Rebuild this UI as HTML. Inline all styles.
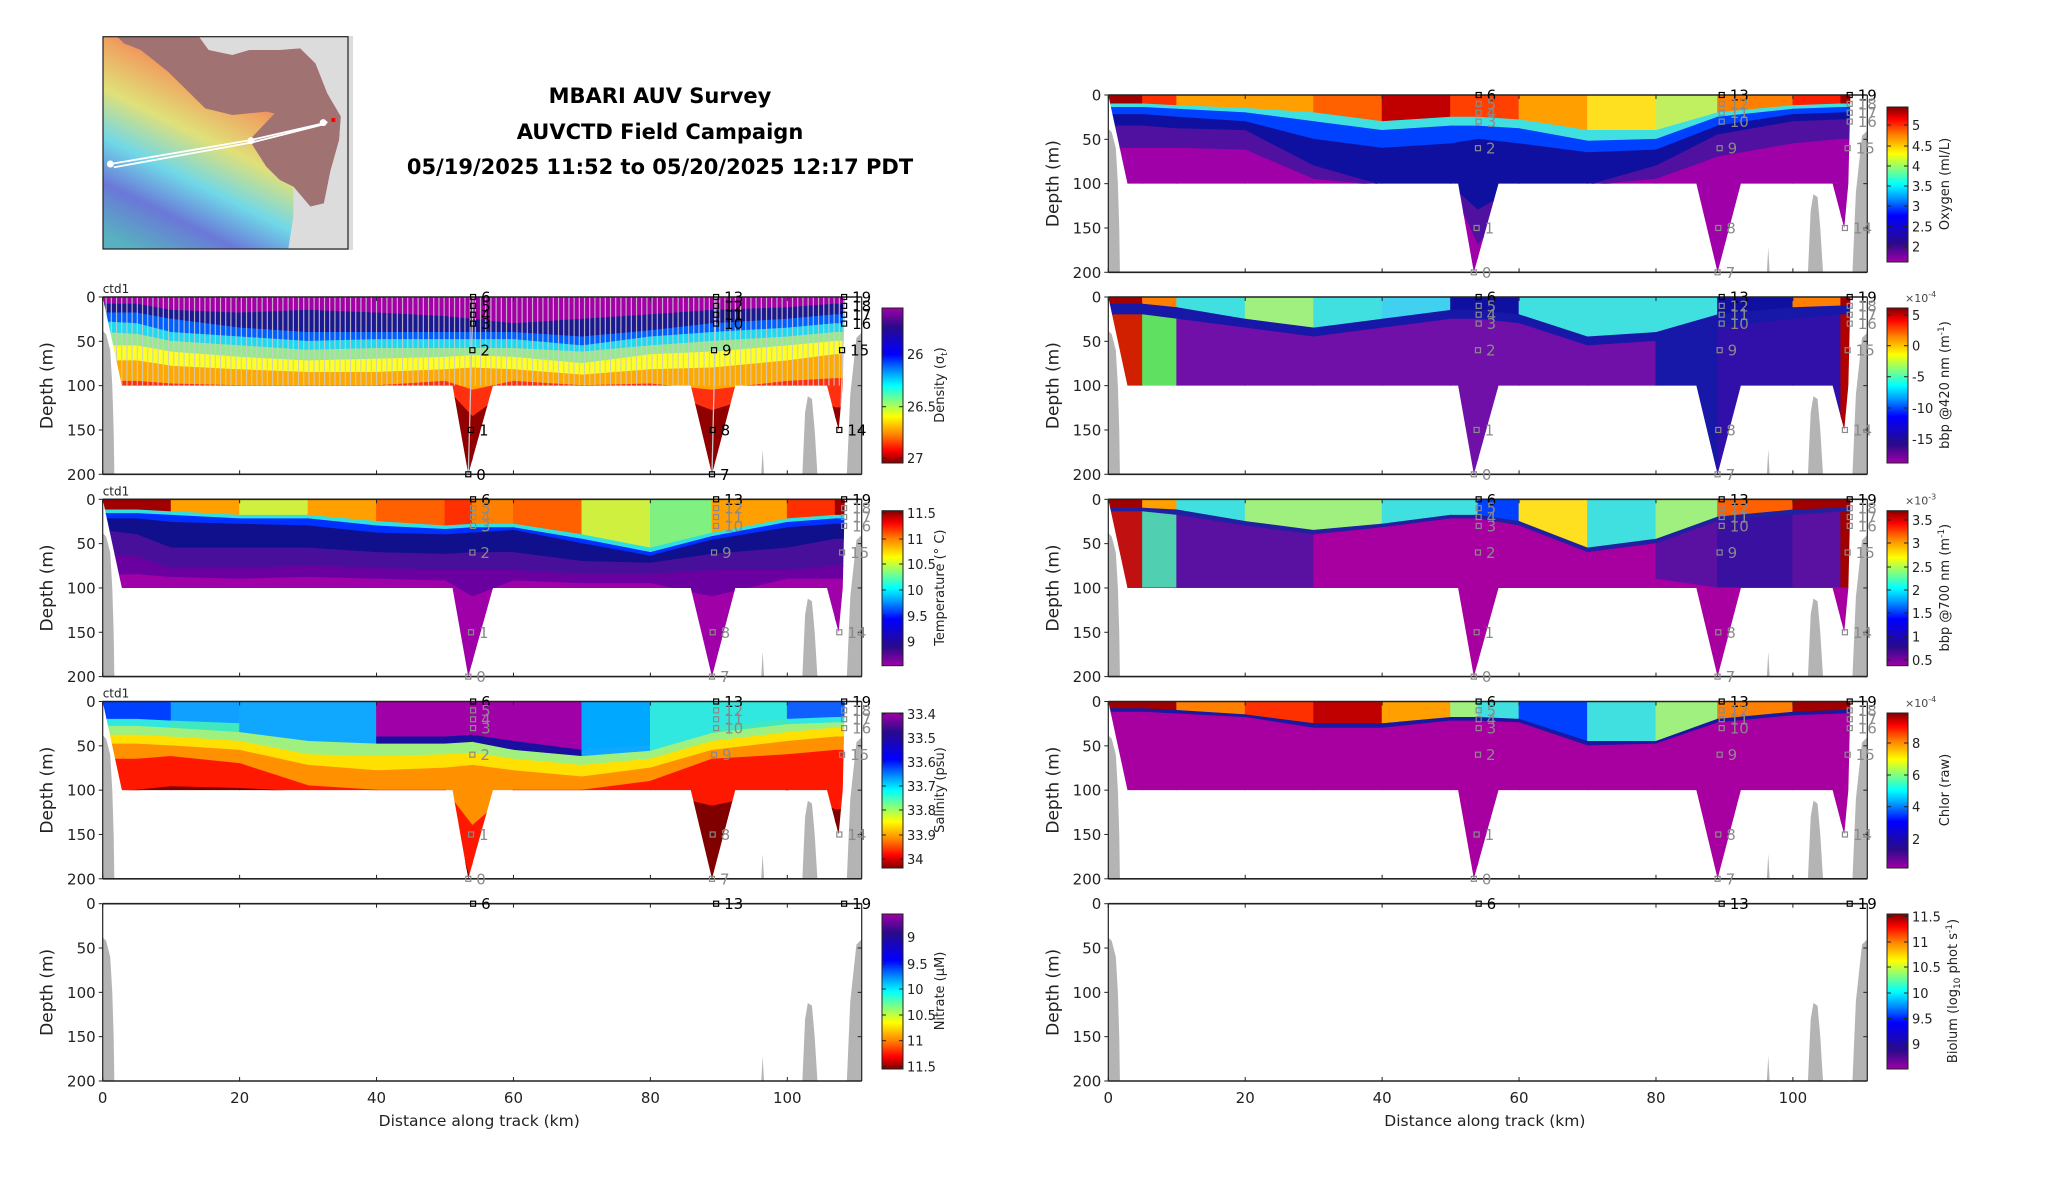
<!DOCTYPE html>
<html><head><meta charset="utf-8">
<style>
html,body{margin:0;padding:0;background:#fff;}
svg{display:block;font-family:"DejaVu Sans","Liberation Sans",sans-serif;}
</style></head>
<body>
<svg id="fig" xmlns="http://www.w3.org/2000/svg" width="2052" height="1188" viewBox="0 0 2052 1188">
<defs>
<linearGradient id="jetUp" x1="0" y1="1" x2="0" y2="0">
<stop offset="0" stop-color="#a000a8"/><stop offset="0.12" stop-color="#2a0a8a"/><stop offset="0.3" stop-color="#0000ff"/><stop offset="0.42" stop-color="#00a0ff"/><stop offset="0.5" stop-color="#00ffff"/><stop offset="0.6" stop-color="#80ff80"/><stop offset="0.7" stop-color="#ffff00"/><stop offset="0.82" stop-color="#ff8000"/><stop offset="0.92" stop-color="#ff0000"/><stop offset="1" stop-color="#800000"/>
</linearGradient>
<linearGradient id="jetDown" x1="0" y1="0" x2="0" y2="1">
<stop offset="0" stop-color="#a000a8"/><stop offset="0.12" stop-color="#2a0a8a"/><stop offset="0.3" stop-color="#0000ff"/><stop offset="0.42" stop-color="#00a0ff"/><stop offset="0.5" stop-color="#00ffff"/><stop offset="0.6" stop-color="#80ff80"/><stop offset="0.7" stop-color="#ffff00"/><stop offset="0.82" stop-color="#ff8000"/><stop offset="0.92" stop-color="#ff0000"/><stop offset="1" stop-color="#800000"/>
</linearGradient>
<linearGradient id="mapLand" x1="0.05" y1="0.95" x2="0.55" y2="0.05">
<stop offset="0" stop-color="#58b0c0"/><stop offset="0.2" stop-color="#6a78d8"/><stop offset="0.38" stop-color="#70d8e8"/><stop offset="0.58" stop-color="#e0e078"/><stop offset="0.78" stop-color="#f0a060"/><stop offset="0.92" stop-color="#e06868"/><stop offset="1" stop-color="#c06060"/>
</linearGradient>
</defs>
<g id="root"></g>
</svg>
<script>
// ---------- data ----------
const D = [0,5,10,20,30,40,50,54,60,70,80,89,100,107,111];

const densColors = ['#a400a8','#1c1890','#0060ff','#20d8f0','#98e890','#ffff20','#ffa800','#ff3010','#900000'];
const densBottoms = [
 [8,8,15,18,15,18,22,25,30,25,20,15,12,8,8],
 [18,18,25,35,40,40,40,40,40,45,38,30,25,20,20],
 [28,30,40,45,50,48,48,48,48,55,45,40,35,30,30],
 [40,42,50,55,60,58,58,58,58,62,55,50,45,40,40],
 [55,55,62,68,72,70,68,66,68,75,65,62,55,50,50],
 [72,72,78,82,85,85,82,80,82,88,82,80,72,65,65],
 [95,95,98,100,100,100,95,105,95,100,98,105,95,92,92],
 [102,102,102,102,102,102,102,135,102,102,102,128,102,125,125]];

const tempColors = [
 ['#a00000','#a00000','#ffa000','#d0f040','#ffa000','#ff6000','#ff3000','#ff8000','#ff6000','#d0f040','#80f080','#ffa000','#ff3000','#a00000'],
 '#30e0e0','#0030ff','#10108c','#48109a','#6a00a0','#a000a8'];
const tempBottoms = [
 [12,12,14,18,18,25,30,28,28,40,55,38,22,18,18],
 [16,16,18,22,22,30,34,32,32,45,60,42,26,22,22],
 [22,22,26,28,30,38,40,38,35,50,64,46,32,28,28],
 [35,40,55,55,55,60,62,60,60,70,72,62,55,45,45],
 [62,65,78,78,75,78,80,80,80,85,85,80,80,75,75],
 [85,85,88,90,88,90,92,110,92,95,95,110,90,90,90]];

const salColors = [
 ['#0040ff','#0040ff','#10a0ff','#10a8ff','#10a8ff','#a000a8','#a000a8','#a000a8','#a000a8','#00a8ff','#30e8e0','#30e8e0','#1060ff','#1060ff'],
 ['#30e8e0','#30e8e0','#40e8c0','#10a8ff','#10a8ff','#1a10a0','#1a10a0','#1a10a0','#1a10a0','#10a8ff','#30e8e0','#40e8c0','#30e8e0','#30e8e0'],
 '#a0f080','#ffe000','#ff9000','#ff1800','#800000'];
const salBottoms = [
 [20,20,22,25,35,40,40,38,45,55,50,30,20,18,18],
 [28,28,30,35,45,48,48,46,55,62,56,36,26,24,24],
 [38,38,40,45,60,62,60,58,65,72,65,45,35,30,30],
 [48,48,50,55,72,78,75,72,78,85,75,55,45,40,40],
 [65,65,62,70,95,100,100,140,100,100,90,65,60,55,55],
 [102,100,96,98,102,102,102,210,102,102,102,118,100,122,122]];

const oxyColors = [
 ['#a00000','#ff3000','#ffa000','#ffa000','#ff6000','#c00000','#ff4000','#ff4000','#ffa000','#ffe020','#c0f060','#ff8000','#ff2000','#a00000'],
 '#40e0e0','#0040ff','#1010a0','#5010a0','#a000a8'];
const oxyBottoms = [
 [10,10,12,15,20,30,25,25,28,40,40,20,12,10,10],
 [14,14,16,20,30,40,35,35,38,52,50,25,16,14,14],
 [22,22,25,30,50,60,55,50,55,65,62,35,22,20,20],
 [35,35,38,40,80,102,102,130,102,102,80,45,30,28,28],
 [60,60,60,62,95,102,102,170,102,102,95,70,55,50,50]];

const b420Colors = [
 ['#a00000','#ff8000','#40e0e0','#a0f080','#40e0e0','#40d0f0','#1010a0','#1010a0','#40e0e0','#40e0e0','#40e0e0','#1010a0','#ff8000','#a00000'],
 '#1818a8',
 ['#d02000','#60e060','#7010a8','#7010a8','#7010a8','#7010a8','#7010a8','#7010a8','#7010a8','#7010a8','#1818a8','#3010a8','#3010a8','#b00000']];
const b420Bottoms = [
 [8,8,12,25,35,25,15,15,20,45,40,20,12,10,10],
 [20,20,25,35,45,35,25,25,30,55,50,35,25,20,20]];

const b700Colors = [
 ['#a00000','#ffa000','#40e0e0','#a0f080','#a0f080','#40e0e0','#40e0e0','#0040ff','#ffe020','#40e0e0','#a0f080','#ff6000','#a00000','#a00000'],
 '#2020a0',
 ['#c01010','#50d0b0','#5a10a0','#5a10a0','#a800a0','#a800a0','#a800a0','#a800a0','#a800a0','#a800a0','#5a10a0','#3a10a0','#5a10a0','#a00000'],
 '#a800a0'];
const b700Bottoms = [
 [10,10,12,25,35,28,18,18,25,55,45,20,12,10,10],
 [14,14,18,30,40,32,22,22,30,60,50,25,18,14,14],
 [100,100,100,100,100,60,40,40,50,70,90,100,100,100,100]];

const chlColors = [
 ['#a00000','#a00000','#ff8000','#ff3000','#c00000','#ffa000','#a0f080','#40e0e0','#0040ff','#40e0e0','#a0f080','#ff8000','#a00000','#a00000'],
 '#1818a0','#a800a0'];
const chlBottoms = [
 [8,8,10,15,25,25,18,18,20,45,45,20,12,10,10],
 [12,12,14,18,30,30,22,22,24,50,48,24,16,14,14]];

const depthTicks = [0,50,100,150,200];
const kmTicks = [0,20,40,60,80,100];
const densTicks = ['26','26.5','27'], densTickY = [354,406.7,458];
const tempTicks = ['11.5','11','10.5','10','9.5','9'], tempTickY = [513,539,564,590,616,641.7];
const salTicks = ['33.4','33.5','33.6','33.7','33.8','33.9','34'], salTickY = [714,738,762,786,810,835,859];
const nitTicks = ['9','9.5','10','10.5','11','11.5'], nitTickY = [937,964,989,1015,1040.7,1066.7];
const oxyTicks = ['5','4.5','4','3.5','3','2.5','2'], oxyTickY = [125,146,166,186,206,226.7,246.7];
const b420Ticks = ['5','0','-5','-10','-15'], b420TickY = [315,345.7,376.7,408,439];
const b700Ticks = ['3.5','3','2.5','2','1.5','1','0.5'], b700TickY = [520,543,567,590,613,636.7,660];
const chlTicks = ['8','6','4','2'], chlTickY = [743,775,806.7,839];
const bioTicks = ['11.5','11','10.5','10','9.5','9'], bioTickY = [916.5,942,967,993,1018.6,1044];

const stations = [
 {km:54.1,d:0,l:'6',top:true},{km:54.1,d:10,l:'5'},{km:54.1,d:20,l:'4'},{km:54.1,d:30,l:'3'},
 {km:54.0,d:60,l:'2'},{km:53.8,d:150,l:'1'},{km:53.4,d:200,l:'0'},
 {km:89.6,d:0,l:'13',top:true},{km:89.6,d:10,l:'12'},{km:89.6,d:20,l:'11'},{km:89.6,d:30,l:'10'},
 {km:89.3,d:60,l:'9'},{km:89.1,d:150,l:'8'},{km:89.0,d:200,l:'7'},
 {km:108.3,d:0,l:'19',top:true},{km:108.3,d:10,l:'18'},{km:108.3,d:20,l:'17'},{km:108.3,d:30,l:'16'},
 {km:108.0,d:60,l:'15'},{km:107.6,d:150,l:'14'}];

// ---------- geometry ----------
const NS='http://www.w3.org/2000/svg';
const KM=6.846, DM=0.8865, PH=177.3, PW=759;
const XL=102.7, XR=1108.3;
const TOPS=[95,297,499.3,701.5,903.7];
const section=[[0,0],[108.4,0],[108.1,100],[107.5,150],[105.8,100],[92.4,100],[89.0,200],[85.9,100],[57.0,100],[53.4,200],[51.1,100],[2.8,100]];
const bathyL=[[0,38],[0.5,42],[1.1,60],[1.4,100],[1.6,150],[1.7,200],[0,200]];
const bathyR1=[[102.2,200],[102.6,130],[103.0,112],[103.6,115],[104.0,150],[104.4,200]];
const bathyR2=[[108.7,200],[109.2,110],[110.1,46],[110.9,40],[110.9,200]];
const bathyR3=[[96.2,200],[96.4,172],[96.6,200]];
const root=document.getElementById('root');

function el(tag,attrs,parent){const e=document.createElementNS(NS,tag);for(const k in attrs)e.setAttribute(k,attrs[k]);(parent||root).appendChild(e);return e;}
function txt(s,attrs,parent){const e=el('text',attrs,parent);e.textContent=s;return e;}

let clipN=0;
function panel(name,x0,top,colors,bottoms,stripes,statMode,ctd){
  const sx=k=>x0+k*KM, sy=d=>top+d*DM;
  const g=el('g',{});
  
  
  if(colors){
    const cid='clip'+(clipN++);
    const cp=el('clipPath',{id:cid},g);
    el('polygon',{points:section.map(p=>sx(p[0])+','+sy(p[1])).join(' ')},cp);
    const fg=el('g',{'clip-path':'url(#'+cid+')'},g);
    
    
    let prev=D.map(()=>0);
    for(let k=0;k<colors.length;k++){
      const bot=k<bottoms.length?bottoms[k]:D.map(()=>210);
      for(let i=0;i<D.length-1;i++){
        const c=Array.isArray(colors[k])?colors[k][i]:colors[k];
        const pts=[[D[i],prev[i]],[D[i+1],prev[i+1]],[D[i+1],bot[i+1]],[D[i],bot[i]]];
        const p=el('polygon',{points:pts.map(q=>sx(q[0])+','+sy(q[1])).join(' '),fill:c,stroke:c,'stroke-width':0.8},fg);
        
        
      }
      prev=bot;
    }
    if(stripes){
      for(let x=sx(0.5);x<sx(108);x+=5.2){
        const l=el('line',{x1:x,y1:sy(0.5),x2:x,y2:sy(100),stroke:'#cccccc','stroke-width':1.2,'stroke-opacity':0.85},fg);
        
        
      }
      [[53.4,54.1],[89.0,89.6],[107.6,108.3]].forEach(v=>{
        const l=el('line',{x1:sx(v[1]),y1:sy(0),x2:sx(v[0]),y2:sy(200),stroke:'#c8c8c8','stroke-width':1.3},fg);
        
        
      });
    }
  }
  [bathyL,bathyR1,bathyR2,bathyR3].forEach((b,i)=>{
    const p=el('polygon',{points:b.map(q=>sx(q[0])+','+sy(q[1])).join(' '),fill:'#b4b4b4'},g);
    
    
  });
  const ax=el('rect',{x:x0,y:top,width:PW,height:PH,fill:'none',stroke:'none'},g);
  
  
  el('line',{x1:x0,y1:top,x2:x0+PW,y2:top,stroke:'#222','stroke-width':1.6},g);
  el('line',{x1:x0,y1:top+PH,x2:x0+PW,y2:top+PH,stroke:'#222','stroke-width':1.6},g);
  el('line',{x1:x0,y1:top,x2:x0,y2:top+PH,stroke:'#222','stroke-width':1.2},g);
  el('line',{x1:x0+PW,y1:top,x2:x0+PW,y2:top+PH,stroke:'#222','stroke-width':1.2},g);
  depthTicks.forEach(d=>{
    el('line',{x1:x0,y1:sy(d),x2:x0-4,y2:sy(d),stroke:'#222','stroke-width':1},g);
    el('line',{x1:x0+PW,y1:sy(d),x2:x0+PW-4,y2:sy(d),stroke:'#222','stroke-width':1},g);
    const t=txt(String(d),{x:x0-7,y:sy(d)+5.5,'font-size':15,'text-anchor':'end',fill:'#222'},g);
    
    
  });
  kmTicks.forEach(k=>{
    el('line',{x1:sx(k),y1:top+PH,x2:sx(k),y2:top+PH-4,stroke:'#222','stroke-width':1},g);
    el('line',{x1:sx(k),y1:top,x2:sx(k),y2:top+4,stroke:'#222','stroke-width':1},g);
  });
  const yl=txt('Depth (m)',{x:0,y:0,'font-size':17,'text-anchor':'middle',fill:'#222',transform:'translate('+(x0-50)+','+(top+PH/2)+') rotate(-90)'},g);
  
  
  if(ctd){const c=txt('ctd1',{x:x0,y:top-4,'font-size':12,fill:'#222'},g);
    }
  stations.forEach(s=>{
    if(statMode==='top'&&!s.top)return;
    const col=(statMode==='all'||s.top)?'#000':'#8a8a8a';
    const r=el('rect',{x:sx(s.km)-2.5,y:sy(s.d)-2.5,width:5,height:5,fill:'none',stroke:col,'stroke-width':1.2},g);
    
    
    const t=txt(s.l,{x:sx(s.km)+8,y:sy(s.d)+5.5,'font-size':15,fill:col},g);
    
    
  });
  return g;
}

function colorbar(name,bx,by,grad,ticks,ticky,title,expo,toff){
  const g=el('g',{});
  
  
  el('rect',{x:bx,y:by,width:21,height:155,fill:'url(#'+grad+')',stroke:'#222','stroke-width':1},g);
  ticks.forEach((t,i)=>{
    el('line',{x1:bx+21,y1:ticky[i],x2:bx+17,y2:ticky[i],stroke:'#222','stroke-width':1},g);
    el('line',{x1:bx,y1:ticky[i],x2:bx+4,y2:ticky[i],stroke:'#222','stroke-width':1},g);
    const tt=txt(t,{x:bx+25,y:ticky[i]+5,'font-size':13,fill:'#222'},g);
    
    
  });
  const tl=txt('',{x:0,y:0,'font-size':13,'text-anchor':'middle',fill:'#222',transform:'translate('+(bx+(toff||62))+','+(by+77)+') rotate(-90)'},g);
  tl.innerHTML=title;
  
  
  if(expo){const e=txt('',{x:bx+18,y:by-6,'font-size':11,fill:'#444'},g);e.innerHTML=expo;
    }
}

panel('density',XL,TOPS[1],densColors,densBottoms,true,'all',true);
panel('temperature',XL,TOPS[2],tempColors,tempBottoms,false,'grey',true);
panel('salinity',XL,TOPS[3],salColors,salBottoms,false,'grey',true);
panel('nitrate',XL,TOPS[4],null,null,false,'top',false);
panel('oxygen',XR,TOPS[0],oxyColors,oxyBottoms,false,'grey',false);
panel('bbp420',XR,TOPS[1],b420Colors,b420Bottoms,false,'grey',false);
panel('bbp700',XR,TOPS[2],b700Colors,b700Bottoms,false,'grey',false);
panel('chlorophyll',XR,TOPS[3],chlColors,chlBottoms,false,'grey',false);
panel('biolum',XR,TOPS[4],null,null,false,'top',false);

[XL,XR].forEach(x0=>{
  kmTicks.forEach(k=>{
    const t=txt(String(k),{x:x0+k*KM,y:1103,'font-size':15,'text-anchor':'middle',fill:'#222'});
    
    
  });
  const xl=txt('Distance along track (km)',{x:x0+55*KM,y:1126,'font-size':15.5,'text-anchor':'middle',fill:'#222'});
  
  
});

colorbar('density',882,308,'jetDown',densTicks,densTickY,'Density (σ<tspan font-size="9" dy="3">t</tspan><tspan dy="-3">)</tspan>');
colorbar('temperature',882,510.7,'jetUp',tempTicks,tempTickY,'Temperature (° C)');
colorbar('salinity',882,713,'jetDown',salTicks,salTickY,'Salinity (psu)');
colorbar('nitrate',882,914,'jetDown',nitTicks,nitTickY,'Nitrate (μM)');
colorbar('oxygen',1887,107,'jetUp',oxyTicks,oxyTickY,'Oxygen (ml/L)');
colorbar('bbp420',1887,308,'jetUp',b420Ticks,b420TickY,'bbp @420 nm (m<tspan font-size="9" dy="-5">-1</tspan><tspan dy="5">)</tspan>','×10<tspan font-size="8" dy="-5">-4</tspan>');
colorbar('bbp700',1887,510.7,'jetUp',b700Ticks,b700TickY,'bbp @700 nm (m<tspan font-size="9" dy="-5">-1</tspan><tspan dy="5">)</tspan>','×10<tspan font-size="8" dy="-5">-3</tspan>');
colorbar('chlorophyll',1887,713,'jetUp',chlTicks,chlTickY,'Chlor (raw)','×10<tspan font-size="8" dy="-5">-4</tspan>');
colorbar('biolum',1887,914,'jetUp',bioTicks,bioTickY,'Biolum (log<tspan font-size="9" dy="3">10</tspan><tspan dy="-3"> phot s</tspan><tspan font-size="9" dy="-5">-1</tspan><tspan dy="5">)</tspan>',null,70);

[['MBARI AUV Survey',103],['AUVCTD Field Campaign',139],['05/19/2025 11:52 to 05/20/2025 12:17 PDT',174]].forEach((l,i)=>{
  const t=txt(l[0],{x:660,y:l[1],'font-size':21,'font-weight':'bold','text-anchor':'middle',fill:'#000'});
  
  
});

// map
const mp=(px,py)=>[(90+px/2.95),(30+py/3)];
const mg=el('g',{});


el('rect',{x:103,y:36.7,width:245,height:212.3,fill:'#dcdcdc'},mg);
const land=[[38,20],[700,20],[740,260],[720,400],[650,530],[600,560],[585,658],[38,658]].map(p=>mp(p[0],p[1]).join(',')).join(' ');
el('polygon',{points:land,fill:'url(#mapLand)'},mg);
const brown=[[80,20],[320,20],[350,60],[420,75],[470,60],[560,60],[620,55],[665,100],[700,190],[740,260],[735,330],[710,420],[690,520],[650,530],[600,470],[560,450],[520,410],[470,330],[545,250],[520,245],[420,255],[340,235],[300,195],[230,125],[150,60],[100,40]].map(p=>mp(p[0],p[1]).join(',')).join(' ');
el('polygon',{points:brown,fill:'#a07272'},mg);
const greyTR=[[320,18],[776,18],[776,262],[740,260],[700,190],[665,100],[620,55],[560,60],[470,60],[420,75],[350,60]].map(p=>mp(p[0],p[1]).join(',')).join(' ');
el('polygon',{points:greyTR,fill:'#dcdcdc'},mg);
const grey=[[600,470],[650,530],[690,520],[710,420],[735,330],[740,260],[776,260],[776,660],[585,660],[600,560]].map(p=>mp(p[0],p[1]).join(',')).join(' ');
el('polygon',{points:grey,fill:'#dcdcdc'},mg);
const trk=[[70,412],[475,338],[690,283],[700,276],[680,282],[475,330],[60,402]].map(p=>mp(p[0],p[1]).join(',')).join(' ');
const tr=el('polyline',{points:trk,fill:'none',stroke:'#fff','stroke-width':1.8},mg);


[[60,402],[475,332],[688,278]].forEach(p=>{const q=mp(p[0],p[1]);el('circle',{cx:q[0],cy:q[1],r:3.5,fill:'#fff'},mg);});
const rq=mp(712,264);el('rect',{x:rq[0],y:rq[1],width:4,height:4,fill:'#f00'},mg);
el('rect',{x:103,y:36.7,width:245,height:212.3,fill:'none',stroke:'#222','stroke-width':1.2},mg);
</script>
</body></html>
